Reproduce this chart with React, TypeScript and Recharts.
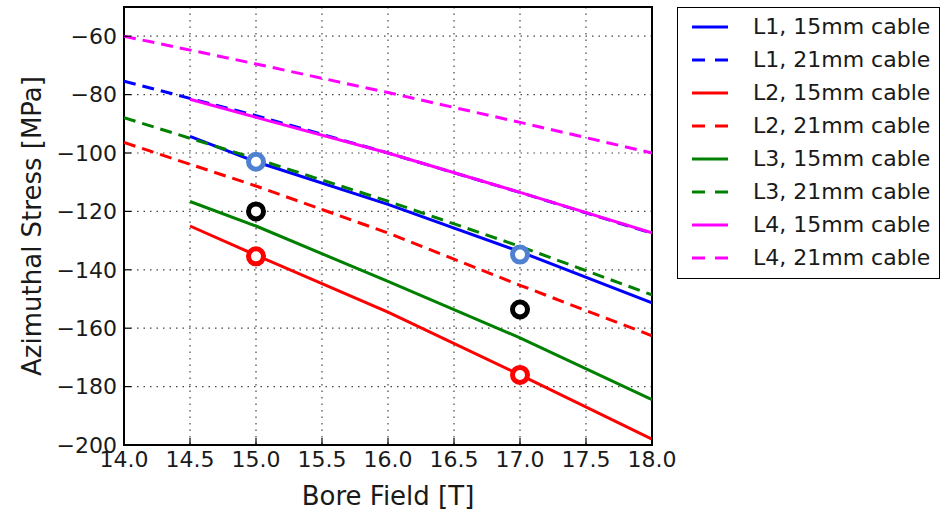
import {
  ComposedChart,
  Line,
  Scatter,
  XAxis,
  YAxis,
  CartesianGrid,
  ReferenceArea,
} from "recharts";

const xTicks = [14.0, 14.5, 15.0, 15.5, 16.0, 16.5, 17.0, 17.5, 18.0];
const yTicks = [-200, -180, -160, -140, -120, -100, -80, -60];

// 21mm cable series start at 14.0 T, 15mm cable series at 14.5 T
const field21 = [14.0, 15.0, 16.0, 17.0, 18.0];
const field15 = [14.5, 15.0, 16.0, 17.0, 18.0];

const l1_15 = [-94.3, -103, -117.6, -133.8, -151.3];
const l1_21 = [-75.4, -87.2, -100, -113.5, -127.5];
const l2_15 = [-125, -135, -154.5, -176, -198];
const l2_21 = [-96.4, -111.3, -127.4, -145.3, -162.6];
const l3_15 = [-116.6, -125, -144, -163.3, -184.5];
const l3_21 = [-87.9, -102, -116.5, -132, -148.6];
const l4_15 = [-81.6, -87.8, -100, -113.5, -127.3];
const l4_21 = [-60, -69.5, -79.3, -89.5, -100];

const measField = [15, 17];
const measBlue = [-103, -134.8];
const measBlack = [-120, -153.6];
const measRed = [-135.4, -176];

const toPts = (xs: number[], ys: number[]) => xs.map((x, i) => ({ x, y: ys[i] }));

const series = [
  { name: "L1, 15mm cable", color: "#0000ff", dashed: false, data: toPts(field15, l1_15) },
  { name: "L1, 21mm cable", color: "#0000ff", dashed: true, data: toPts(field21, l1_21) },
  { name: "L2, 15mm cable", color: "#ff0000", dashed: false, data: toPts(field15, l2_15) },
  { name: "L2, 21mm cable", color: "#ff0000", dashed: true, data: toPts(field21, l2_21) },
  { name: "L3, 15mm cable", color: "#008000", dashed: false, data: toPts(field15, l3_15) },
  { name: "L3, 21mm cable", color: "#008000", dashed: true, data: toPts(field21, l3_21) },
  { name: "L4, 15mm cable", color: "#ff00ff", dashed: false, data: toPts(field15, l4_15) },
  { name: "L4, 21mm cable", color: "#ff00ff", dashed: true, data: toPts(field21, l4_21) },
];

const markers = [
  { color: "#4f80d2", data: toPts(measField, measBlue) },
  { color: "#000000", data: toPts(measField, measBlack) },
  { color: "#ff0000", data: toPts(measField, measRed) },
];

const FONT = "'DejaVu Sans', sans-serif";
const TEXT = "#1a1a1a";

const fmtY = (v: number) => (v < 0 ? "\u2212" + Math.abs(v) : String(v));

function Ring(color: string) {
  return (props: any) => (
    <circle cx={props.cx} cy={props.cy} r={7.5} fill="#fff" stroke={color} strokeWidth={5} />
  );
}

function LegendBox() {
  return (
    <div
      style={{
        position: "absolute",
        left: 677,
        top: 7,
        width: 263,
        height: 272,
        border: "1.5px solid #000",
        boxSizing: "border-box",
        background: "#fff",
        fontFamily: FONT,
        fontSize: 22,
        color: TEXT,
        paddingTop: 2,
      }}
    >
      {series.map((s) => (
        <div key={s.name} style={{ display: "flex", alignItems: "center", height: 33 }}>
          <svg width={75} height={12} style={{ flex: "none" }}>
            <line
              x1={14}
              x2={50}
              y1={6}
              y2={6}
              stroke={s.color}
              strokeWidth={3}
              strokeDasharray={s.dashed ? "13 10" : undefined}
            />
          </svg>
          <span style={{ whiteSpace: "nowrap" }}>{s.name}</span>
        </div>
      ))}
    </div>
  );
}

export default function App() {
  return (
    <div style={{ position: "absolute", left: 0, top: 0, width: 945, height: 511, background: "#fff" }}>
      <ComposedChart width={945} height={511} margin={{ top: 7, right: 293, left: 0, bottom: 0 }}>
        <CartesianGrid stroke="#444" strokeDasharray="1.5 5" strokeWidth={1.2} />
        <XAxis
          dataKey="x"
          type="number"
          domain={[14, 18]}
          ticks={xTicks}
          allowDataOverflow
          tickFormatter={(v: number) => v.toFixed(1)}
          height={66}
          axisLine={false}
          tickSize={-7}
          tickMargin={13}
          tickLine={{ stroke: "#000", strokeWidth: 1.2 }}
          tick={{ fill: TEXT, fontSize: 22, fontFamily: FONT }}
          label={{ value: "Bore Field [T]", position: "insideBottom", offset: 6, fill: TEXT, fontSize: 26, fontFamily: FONT }}
        />
        <XAxis
          xAxisId="top"
          orientation="top"
          type="number"
          domain={[14, 18]}
          ticks={xTicks}
          allowDataOverflow
          height={0}
          axisLine={false}
          tick={false}
          tickSize={-7}
          tickLine={{ stroke: "#000", strokeWidth: 1.2 }}
        />
        <YAxis
          type="number"
          domain={[-200, -50]}
          ticks={yTicks}
          allowDataOverflow
          width={124}
          axisLine={false}
          tickSize={-7}
          tickMargin={14}
          tickFormatter={fmtY}
          tickLine={{ stroke: "#000", strokeWidth: 1.2 }}
          tick={{ fill: TEXT, fontSize: 22, fontFamily: FONT }}
          label={{ value: "Azimuthal Stress [MPa]", angle: -90, position: "center", dx: -30, fill: TEXT, fontSize: 26, fontFamily: FONT }}
        />
        <YAxis
          yAxisId="right"
          orientation="right"
          type="number"
          domain={[-200, -50]}
          ticks={yTicks}
          allowDataOverflow
          width={0}
          axisLine={false}
          tick={false}
          tickSize={-7}
          tickLine={{ stroke: "#000", strokeWidth: 1.2 }}
        />
        {series.map((s) => (
          <Line
            key={s.name}
            data={s.data}
            dataKey="y"
            type="linear"
            stroke={s.color}
            strokeWidth={3}
            strokeDasharray={s.dashed ? "12 7" : undefined}
            dot={false}
            activeDot={false}
            isAnimationActive={false}
          />
        ))}
        {markers.map((m, i) => (
          <Scatter key={i} data={m.data} dataKey="y" shape={Ring(m.color)} isAnimationActive={false} />
        ))}
        <ReferenceArea x1={14} x2={18} y1={-200} y2={-50} fill="none" stroke="#000" strokeWidth={2} ifOverflow="visible" />
      </ComposedChart>
      <LegendBox />
    </div>
  );
}
